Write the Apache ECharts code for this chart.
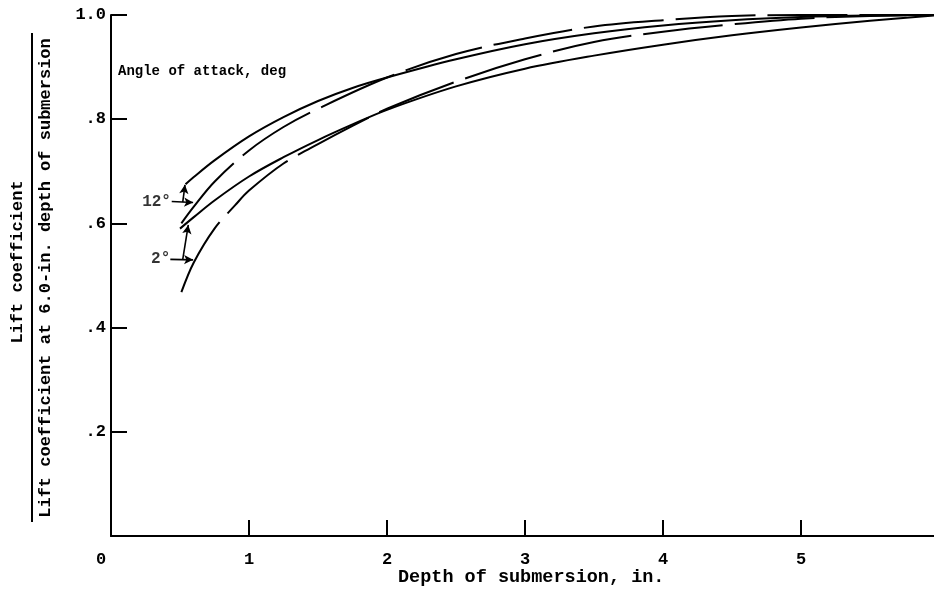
<!DOCTYPE html>
<html>
<head>
<meta charset="utf-8">
<script src="https://cdn.jsdelivr.net/npm/echarts@6/dist/echarts.min.js"></script>
<style>
  html, body { margin: 0; padding: 0; background: #fff; }
  #chart { width: 934px; height: 590px; }
</style>
</head>
<body>
<div id="chart"></div>
<script>
// Lift coefficient ratio against depth of submersion, two angles of attack,
// each drawn as a solid and a long-dashed curve.
const xTicks = [0, 1, 2, 3, 4, 5, 6];
const yTicks = [0, 0.2, 0.4, 0.6, 0.8, 1.0];

const depth12Solid = [0.54, 0.6, 0.75, 1.0, 1.25, 1.5, 1.75, 2.0, 2.5, 3.0, 3.5, 4.0, 4.5, 5.0, 5.5, 6.0];
const ratio12Solid = [0.675, 0.689, 0.721, 0.767, 0.804, 0.835, 0.86, 0.88, 0.915, 0.944, 0.965, 0.98, 0.99, 0.996, 0.999, 1.0];

const depth12Dashed = [0.51, 0.6, 0.75, 1.0, 1.25, 1.5, 2.0, 2.5, 3.0, 3.5, 4.0, 4.5, 5.0, 6.0];
const ratio12Dashed = [0.6, 0.632, 0.68, 0.74, 0.785, 0.82, 0.88, 0.925, 0.955, 0.978, 0.99, 0.998, 1.0, 1.0];

const depth2Solid = [0.5, 0.6, 0.75, 1.0, 1.25, 1.5, 1.75, 2.0, 2.5, 3.0, 3.5, 4.0, 4.5, 5.0, 5.5, 6.0];
const ratio2Solid = [0.59, 0.612, 0.644, 0.69, 0.727, 0.76, 0.79, 0.818, 0.863, 0.897, 0.922, 0.943, 0.961, 0.976, 0.989, 1.0];

const depth2Dashed = [0.51, 0.6, 0.75, 0.9, 1.0, 1.25, 1.5, 1.75, 2.0, 2.5, 3.0, 3.5, 4.0, 4.5, 5.0, 5.5, 6.0];
const ratio2Dashed = [0.468, 0.525, 0.59, 0.635, 0.663, 0.715, 0.752, 0.787, 0.82, 0.872, 0.915, 0.948, 0.968, 0.982, 0.993, 0.998, 1.0];

// Angle labels and the arrows leading from them to the curve ends (data units).
const angleLabels = [
  { text: '12°', at: [0.33, 0.642] },
  { text: '2°', at: [0.36, 0.531] }
];
const angleArrows = [
  [[0.52, 0.641], [0.536, 0.674]],
  [[0.44, 0.642], [0.595, 0.640]],
  [[0.52, 0.531], [0.56, 0.597]],
  [[0.43, 0.531], [0.595, 0.530]]
];

const FONT = '"Liberation Mono", "DejaVu Sans Mono", monospace';
const INK = '#000';

function zip(xs, ys) { return xs.map((x, i) => [x, ys[i]]); }

function curve(name, xs, ys, dashed) {
  return {
    name: name,
    type: 'line',
    data: zip(xs, ys),
    smooth: 0.35,
    showSymbol: false,
    symbol: 'none',
    clip: false,
    lineStyle: { color: INK, width: 2, type: dashed ? [80, 12] : 'solid' },
    z: 3
  };
}

const chart = echarts.init(document.getElementById('chart'), null, { renderer: 'canvas' });

chart.setOption({
  animation: false,
  backgroundColor: '#fff',
  grid: { left: 111, top: 15, width: 828, height: 521, containLabel: false, outerBoundsMode: 'none' },
  xAxis: {
    type: 'value',
    min: xTicks[0],
    max: xTicks[xTicks.length - 1],
    interval: 1,
    axisLine: { show: true, onZero: false, lineStyle: { color: INK, width: 2 } },
    axisTick: { show: true, inside: true, length: 16, lineStyle: { color: INK, width: 2 } },
    axisLabel: {
      margin: 15,
      color: INK,
      fontFamily: FONT,
      fontSize: 17,
      fontWeight: 'bold',
      hideOverlap: false,
      formatter: v => (v === 0 ? '{z|0}' : String(v)),
      rich: {
        z: { fontFamily: FONT, fontSize: 17, fontWeight: 'bold', color: INK, padding: [0, 20, 0, 0] }
      }
    },
    splitLine: { show: false }
  },
  yAxis: {
    type: 'value',
    min: yTicks[0],
    max: yTicks[yTicks.length - 1],
    interval: 0.2,
    axisLine: { show: true, onZero: false, lineStyle: { color: INK, width: 2 } },
    axisTick: { show: true, inside: true, length: 16, lineStyle: { color: INK, width: 2 } },
    axisLabel: {
      margin: 5,
      color: INK,
      fontFamily: FONT,
      fontSize: 17,
      fontWeight: 'bold',
      formatter: v => {
        if (v === 0) return '';
        if (Math.abs(v - 1) < 1e-9) return '1.0';
        return v.toFixed(1).replace(/^0/, '');
      }
    },
    splitLine: { show: false }
  },
  series: [
    curve('12° solid', depth12Solid, ratio12Solid, false),
    curve('12° dashed', depth12Dashed, ratio12Dashed, true),
    curve('2° solid', depth2Solid, ratio2Solid, false),
    curve('2° dashed', depth2Dashed, ratio2Dashed, true),
    {
      name: 'angle notes',
      type: 'scatter',
      data: angleLabels.map(a => ({ value: a.at, name: a.text })),
      symbolSize: 0,
      silent: true,
      label: {
        show: true,
        position: 'inside',
        formatter: p => p.name,
        color: INK,
        fontFamily: FONT,
        fontSize: 16,
        fontWeight: 'bold'
      },
      markLine: {
        silent: true,
        symbol: ['none', 'arrow'],
        symbolSize: [7, 9],
        label: { show: false },
        lineStyle: { color: INK, width: 1.6, type: 'solid' },
        data: angleArrows.map(a => [{ coord: a[0] }, { coord: a[1] }])
      },
      z: 4
    }
  ],
  graphic: [
    {
      type: 'text',
      left: 118,
      top: 64,
      style: {
        text: 'Angle of attack, deg',
        fill: INK,
        font: 'bold 14px ' + FONT
      }
    },
    {
      type: 'text',
      left: 398,
      top: 568,
      style: {
        text: 'Depth of submersion, in.',
        fill: INK,
        font: 'bold 18.5px ' + FONT
      }
    },
    {
      type: 'text',
      x: 18,
      y: 262,
      rotation: Math.PI / 2,
      style: {
        text: 'Lift coefficient',
        fill: INK,
        font: 'bold 17px ' + FONT,
        align: 'center',
        verticalAlign: 'middle'
      }
    },
    {
      type: 'line',
      shape: { x1: 32, y1: 33, x2: 32, y2: 522 },
      style: { stroke: INK, lineWidth: 2 }
    },
    {
      type: 'text',
      x: 46,
      y: 278,
      rotation: Math.PI / 2,
      style: {
        text: 'Lift coefficient at 6.0-in. depth of submersion',
        fill: INK,
        font: 'bold 17px ' + FONT,
        align: 'center',
        verticalAlign: 'middle'
      }
    }
  ]
});
</script>
</body>
</html>
